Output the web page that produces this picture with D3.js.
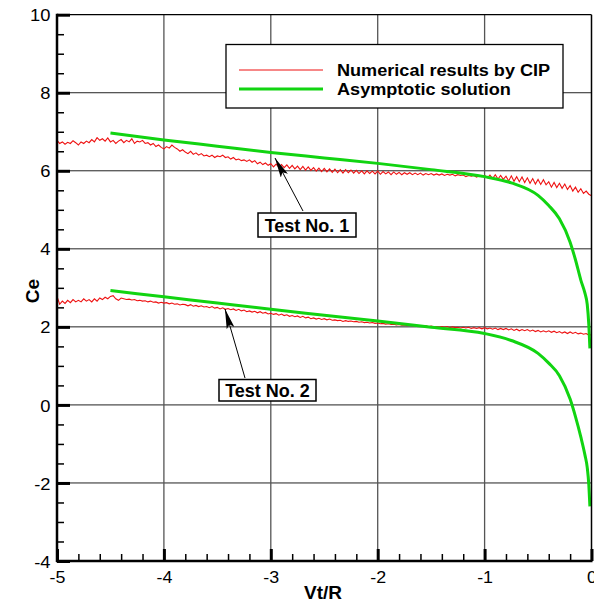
<!DOCTYPE html>
<html>
<head>
<meta charset="utf-8">
<script src="https://cdn.jsdelivr.net/npm/d3@7/dist/d3.min.js"></script>
<style>
  html, body { margin: 0; padding: 0; background: #fff; }
  svg { display: block; font-family: "Liberation Sans", Arial, sans-serif; }
</style>
</head>
<body>
<svg id="chart" width="594" height="603"></svg>
<script>
// Sampling of the CIP runs: Vt/R from -5 to 0 every 0.025
const cipStart = -5;
const cipStep = 0.025;

// Test No. 1, numerical results by CIP (Ce)
const cipTest1 = [
  6.78, 6.70, 6.74, 6.68, 6.73, 6.70, 6.77, 6.72,
  6.66, 6.74, 6.70, 6.76, 6.72, 6.80, 6.74, 6.85,
  6.78, 6.82, 6.76, 6.84, 6.74, 6.78, 6.70, 6.76,
  6.80, 6.72, 6.78, 6.74, 6.82, 6.70, 6.76, 6.74,
  6.78, 6.70, 6.72, 6.66, 6.70, 6.62, 6.66, 6.60,
  6.56, 6.62, 6.58, 6.66, 6.60, 6.56, 6.50, 6.54,
  6.48, 6.44, 6.50, 6.42, 6.46, 6.40, 6.44, 6.38,
  6.40, 6.36, 6.40, 6.34, 6.38, 6.36, 6.40, 6.34,
  6.36, 6.30, 6.34, 6.28, 6.30, 6.26, 6.28, 6.24,
  6.28, 6.22, 6.26, 6.18, 6.22, 6.16, 6.20, 6.14,
  6.18, 6.10, 6.17, 6.09, 6.16, 6.08, 6.15, 6.06,
  6.14, 6.05, 6.12, 6.03, 6.11, 6.02, 6.10, 6.01,
  6.08, 5.99, 6.07, 5.98, 6.06, 5.97, 6.05, 5.96,
  6.04, 5.95, 6.03, 5.94, 6.03, 5.95, 6.02, 5.94,
  6.01, 5.93, 6.00, 5.92, 6.00, 5.93, 5.99, 5.92,
  5.99, 5.91, 5.98, 5.92, 5.97, 5.90, 5.97, 5.91,
  5.96, 5.90, 5.95, 5.91, 5.95, 5.90, 5.94, 5.90,
  5.94, 5.89, 5.93, 5.90, 5.93, 5.89, 5.92, 5.89,
  5.92, 5.88, 5.91, 5.89, 5.91, 5.87, 5.90, 5.88,
  5.89, 5.85, 5.88, 5.86, 5.88, 5.84, 5.87, 5.85,
  5.88, 5.82, 5.89, 5.80, 5.90, 5.79, 5.88, 5.78,
  5.86, 5.74, 5.87, 5.73, 5.85, 5.72, 5.84, 5.70,
  5.82, 5.68, 5.80, 5.66, 5.78, 5.65, 5.77, 5.64,
  5.72, 5.58, 5.70, 5.57, 5.68, 5.55, 5.66, 5.52,
  5.62, 5.48, 5.58, 5.45, 5.54, 5.42, 5.48, 5.40,
  5.36
];

// Test No. 2, numerical results by CIP (Ce)
const cipTest2 = [
  2.78, 2.58, 2.66, 2.60, 2.68, 2.62, 2.70, 2.64,
  2.68, 2.64, 2.72, 2.66, 2.70, 2.64, 2.72, 2.66,
  2.74, 2.70, 2.76, 2.72, 2.78, 2.80, 2.72, 2.68,
  2.74, 2.72, 2.70, 2.71, 2.69, 2.70, 2.67, 2.68,
  2.66, 2.67, 2.64, 2.66, 2.63, 2.64, 2.61, 2.63,
  2.61, 2.62, 2.59, 2.61, 2.58, 2.59, 2.56, 2.58,
  2.57, 2.54, 2.57, 2.53, 2.55, 2.52, 2.54, 2.51,
  2.52, 2.49, 2.52, 2.48, 2.50, 2.46, 2.49, 2.45,
  2.47, 2.44, 2.46, 2.42, 2.45, 2.41, 2.43, 2.39,
  2.41, 2.38, 2.40, 2.36, 2.39, 2.35, 2.37, 2.33,
  2.35, 2.32, 2.34, 2.30, 2.33, 2.29, 2.31, 2.27,
  2.29, 2.26, 2.28, 2.24, 2.27, 2.23, 2.25, 2.21,
  2.23, 2.20, 2.22, 2.19, 2.21, 2.18, 2.20, 2.17,
  2.18, 2.16, 2.17, 2.14, 2.16, 2.14, 2.15, 2.13,
  2.14, 2.12, 2.13, 2.11, 2.12, 2.10, 2.11, 2.09,
  2.10, 2.08, 2.09, 2.07, 2.08, 2.06, 2.07, 2.05,
  2.06, 2.04, 2.05, 2.03, 2.05, 2.03, 2.04, 2.02,
  2.03, 2.01, 2.03, 2.00, 2.02, 2.00, 2.01, 1.99,
  2.01, 1.99, 2.01, 1.98, 2.00, 1.98, 1.99, 1.97,
  1.99, 1.97, 1.99, 1.96, 1.98, 1.96, 1.98, 1.95,
  1.98, 1.95, 1.97, 1.94, 1.97, 1.93, 1.96, 1.93,
  1.96, 1.92, 1.95, 1.91, 1.94, 1.90, 1.93, 1.90,
  1.93, 1.89, 1.92, 1.88, 1.91, 1.87, 1.90, 1.87,
  1.90, 1.86, 1.89, 1.85, 1.88, 1.84, 1.87, 1.83,
  1.87, 1.83, 1.86, 1.82, 1.84, 1.81, 1.83, 1.79,
  1.80
];

// Asymptotic solution: Vt/R and Ce for both tests
const asymX = [-4.5, -4, -3.5, -3, -2.5, -2, -1.5, -1, -0.75, -0.5, -0.4, -0.3, -0.2, -0.15, -0.1, -0.06, -0.04, -0.025, -0.015];
const asymTest1 = [6.97, 6.79, 6.63, 6.47, 6.33, 6.19, 6.03, 5.85, 5.69, 5.37, 5.11, 4.77, 4.17, 3.72, 3.20, 2.85, 2.58, 2.05, 1.45];
const asymTest2 = [2.93, 2.77, 2.61, 2.45, 2.30, 2.15, 1.99, 1.83, 1.65, 1.32, 1.07, 0.75, 0.15, -0.30, -0.82, -1.30, -1.60, -2.05, -2.60];

// Axis ticks
const xMajor = [-5, -4, -3, -2, -1, 0];
const xMinor = d3.range(-5, 0.0001, 0.2).filter(v => Math.abs(v - Math.round(v)) > 1e-6);
const yMajor = [-4, -2, 0, 2, 4, 6, 8, 10];
const yMinor = d3.range(-4, 10.0001, 0.5).filter(v => Math.abs(v / 2 - Math.round(v / 2)) > 1e-6);

const legendItems = [
  { label: "Numerical results by CIP", color: "#ee1111", width: 1 },
  { label: "Asymptotic solution", color: "#11d411", width: 3 }
];

const svg = d3.select("#chart");
const L = 57, R = 591.5, T = 14.7, B = 561;
const x = d3.scaleLinear().domain([-5, 0]).range([L, R]);
const y = d3.scaleLinear().domain([-4, 10]).range([B, T]);
const plain = d => String(d);   // hyphen-minus tick labels

// grid lines
svg.append("g").selectAll("line").data(yMajor.filter(v => v > -4 && v < 10)).join("line")
  .attr("x1", L).attr("x2", R).attr("y1", d => y(d)).attr("y2", d => y(d))
  .attr("stroke", "#222").attr("stroke-width", 1);
svg.append("g").selectAll("line").data(xMajor.filter(v => v > -5 && v < 0)).join("line")
  .attr("y1", T).attr("y2", B).attr("x1", d => x(d)).attr("x2", d => x(d))
  .attr("stroke", "#555").attr("stroke-width", 1.3);

// series
svg.append("clipPath").attr("id", "plotClip").append("rect")
  .attr("x", L).attr("y", T - 2).attr("width", R - L + 2).attr("height", B - T + 2);
const plot = svg.append("g").attr("clip-path", "url(#plotClip)");

const cipLine = d3.line().x((d, i) => x(cipStart + i * cipStep)).y(d => y(d));
[cipTest1, cipTest2].forEach(s => {
  plot.append("path").datum(s).attr("d", cipLine)
    .attr("fill", "none").attr("stroke", legendItems[0].color).attr("stroke-width", 1.1);
});
const asymLine = d3.line().x((d, i) => x(asymX[i])).y(d => y(d)).curve(d3.curveMonotoneX);
[asymTest1, asymTest2].forEach(s => {
  plot.append("path").datum(s).attr("d", asymLine)
    .attr("fill", "none").attr("stroke", legendItems[1].color).attr("stroke-width", 3);
});

// axes: inward ticks
const fontSize = 17;
const axL = svg.append("g").attr("transform", `translate(${L},0)`)
  .call(d3.axisLeft(y).tickValues(yMajor).tickSize(-13).tickFormat(plain));
const axLm = svg.append("g").attr("transform", `translate(${L},0)`)
  .call(d3.axisLeft(y).tickValues(yMinor).tickSize(-7).tickFormat(""));
const axB = svg.append("g").attr("transform", `translate(0,${B})`)
  .call(d3.axisBottom(x).tickValues(xMajor).tickSize(-12).tickFormat(plain));
const axBm = svg.append("g").attr("transform", `translate(0,${B})`)
  .call(d3.axisBottom(x).tickValues(xMinor).tickSize(-7).tickFormat(""));
[axL, axLm, axB, axBm].forEach(a => {
  a.select(".domain").remove();
  a.selectAll("text").attr("font-size", fontSize).attr("font-family", "Liberation Sans, Arial, sans-serif").attr("fill", "#000");
});
axL.selectAll(".tick line").attr("stroke", "#000").attr("stroke-width", 3);
axLm.selectAll(".tick line").attr("stroke", "#000").attr("stroke-width", 1.5);
axB.selectAll(".tick line").attr("stroke", "#000").attr("stroke-width", 3);
axBm.selectAll(".tick line").attr("stroke", "#000").attr("stroke-width", 1.5);
axL.selectAll("text").attr("x", -6).attr("dy", "0.36em").attr("transform", "scale(1.08,1)");
axB.selectAll("text").attr("y", 10).attr("dy", "0.71em").attr("transform", "scale(1.05,1)");

// frame
svg.append("line").attr("x1", L).attr("x2", R).attr("y1", T).attr("y2", T).attr("stroke", "#000").attr("stroke-width", 1.2);
svg.append("line").attr("x1", R).attr("x2", R).attr("y1", T).attr("y2", B).attr("stroke", "#000").attr("stroke-width", 1.5);
svg.append("line").attr("x1", L).attr("x2", L).attr("y1", T - 1).attr("y2", B + 1).attr("stroke", "#000").attr("stroke-width", 2.5);
svg.append("line").attr("x1", L - 1).attr("x2", R + 1).attr("y1", B).attr("y2", B).attr("stroke", "#000").attr("stroke-width", 2.5);

// axis titles
svg.append("text").attr("x", 323).attr("y", 599).attr("text-anchor", "middle")
  .attr("font-weight", "bold").attr("font-size", 19).text("Vt/R");
svg.append("text").attr("transform", "translate(39,291) rotate(-90)").attr("text-anchor", "middle")
  .attr("font-weight", "bold").attr("font-size", 19).text("Ce");

// legend
const lg = svg.append("g");
lg.append("rect").attr("x", 226).attr("y", 44.5).attr("width", 337).attr("height", 63.5)
  .attr("fill", "#fff").attr("stroke", "#000").attr("stroke-width", 1.3);
legendItems.forEach((it, i) => {
  const yy = 70 + i * 19;
  lg.append("line").attr("x1", 239).attr("x2", 323).attr("y1", yy).attr("y2", yy)
    .attr("stroke", it.color).attr("stroke-width", it.width);
  lg.append("text").attr("transform", `translate(337,${yy + 5.5}) scale(1.065,1)`)
    .attr("font-weight", "bold").attr("font-size", 17).text(it.label);
});

// callouts
svg.append("defs").append("marker").attr("id", "arrowHead")
  .attr("viewBox", "0 0 20 8").attr("refX", 20).attr("refY", 4)
  .attr("markerWidth", 20).attr("markerHeight", 8).attr("markerUnits", "userSpaceOnUse")
  .attr("orient", "auto")
  .append("path").attr("d", "M0,0 L20,4 L0,8 L4,4 Z").attr("fill", "#000");

const callouts = [
  { text: "Test No. 1", box: [258, 213, 98, 24], tail: [303, 211], tip: [275, 158] },
  { text: "Test No. 2", box: [219, 379.5, 97, 21.5], tail: [245, 378], tip: [225, 309] }
];
callouts.forEach(c => {
  svg.append("line").attr("x1", c.tail[0]).attr("y1", c.tail[1]).attr("x2", c.tip[0]).attr("y2", c.tip[1])
    .attr("stroke", "#000").attr("stroke-width", 1).attr("marker-end", "url(#arrowHead)");
  svg.append("rect").attr("x", c.box[0]).attr("y", c.box[1]).attr("width", c.box[2]).attr("height", c.box[3])
    .attr("fill", "#fff").attr("stroke", "#000").attr("stroke-width", 1.5);
  svg.append("text").attr("x", c.box[0] + c.box[2] / 2).attr("y", c.box[1] + c.box[3] / 2 + 6.5)
    .attr("text-anchor", "middle").attr("font-weight", "bold").attr("font-size", 18).text(c.text);
});
</script>
</body>
</html>
